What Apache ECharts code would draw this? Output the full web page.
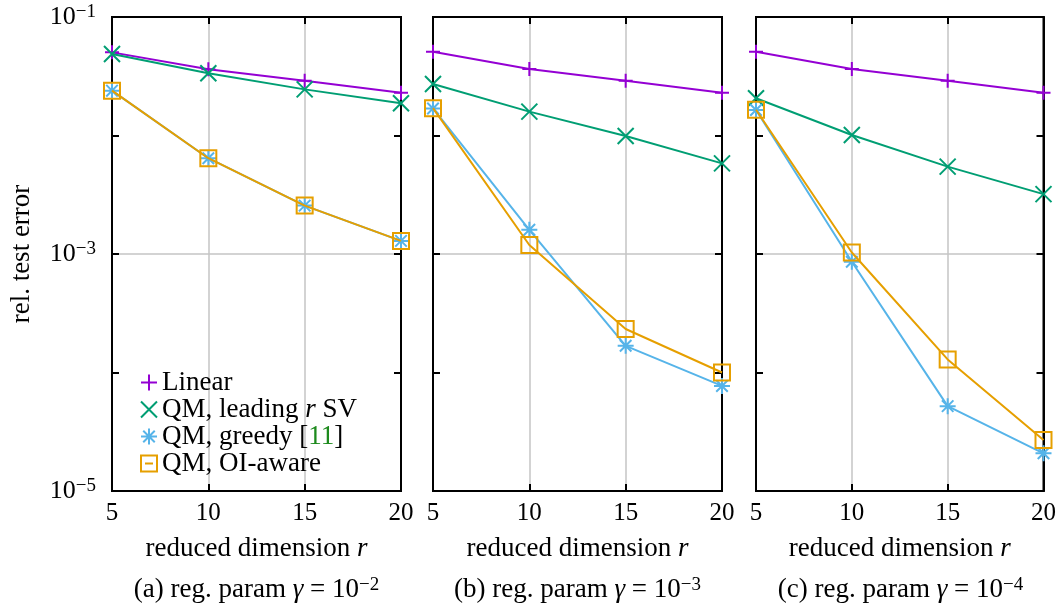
<!DOCTYPE html>
<html>
<head>
<meta charset="utf-8">
<title>rel. test error</title>
<script src="https://cdn.jsdelivr.net/npm/echarts@6/dist/echarts.min.js"></script>
<style>
  html, body { margin: 0; padding: 0; background: #fff; }
  #main { width: 1059px; height: 606px; }
</style>
</head>
<body>
<div id="main"></div>
<script>
// reduced dimension r
var rValues = [5, 10, 15, 20];

// (a) gamma = 1e-2
var linearA  = [0.0503, 0.0362, 0.0290, 0.0230];
var leadingA = [0.0488, 0.0335, 0.0245, 0.0187];
var greedyA  = [0.0239, 0.00643, 0.00256, 0.00129];
var oiA      = [0.0239, 0.00643, 0.00256, 0.00129];

// (b) gamma = 1e-3
var linearB  = [0.0509, 0.0364, 0.0290, 0.0230];
var leadingB = [0.0272, 0.0159, 0.0099, 0.00582];
var greedyB  = [0.0169, 0.0016, 0.000168, 0.000077];
var oiB      = [0.0170, 0.00119, 0.000233, 0.000100];

// (c) gamma = 1e-4
var linearC  = [0.0509, 0.0364, 0.0290, 0.0230];
var leadingC = [0.0206, 0.0101, 0.00546, 0.0032];
var greedyC  = [0.0164, 0.00086, 0.000052, 0.0000208];
var oiC      = [0.0165, 0.00103, 0.000129, 0.0000269];

var captions = [
  '(a) reg. param {i|γ} = 10{s|−2}',
  '(b) reg. param {i|γ} = 10{s|−3}',
  '(c) reg. param {i|γ} = 10{s|−4}'
];
var seriesNames = ['Linear', 'QM, leading r SV', 'QM, greedy [11]', 'QM, OI-aware'];

var FONT = 'Liberation Serif';
var colors = ['#9400d3', '#009e73', '#56b4e9', '#e69f00'];
var plusPath = 'path://M0,-1L0,1M-1,0L1,0';
var crossPath = 'path://M-1,-1L1,1M-1,1L1,-1';
var starPath = 'path://M0,-1L0,1M-1,0L1,0M-0.72,-0.72L0.72,0.72M-0.72,0.72L0.72,-0.72';
var boxPath = 'path://M-1,-1L1,-1L1,1L-1,1Z';
var boxLegendPath = 'path://M-1,-1L1,-1L1,1L-1,1ZM-0.5,0L0.5,0';
var symbols = [plusPath, crossPath, starPath, boxPath];
var symbolSizes = [14, 16, 16, 16];

var panels = [
  [linearA, leadingA, greedyA, oiA],
  [linearB, leadingB, greedyB, oiB],
  [linearC, leadingC, greedyC, oiC]
];
var gridLefts = [112, 433, 756];
var gridWidth = 289;
var gridTop = 17;
var gridHeight = 474;

var textRich = {
  b: { fontFamily: FONT, fontSize: 26, color: '#000', lineHeight: 28 },
  s: { fontFamily: FONT, fontSize: 19, color: '#000', verticalAlign: 'top', lineHeight: 13 },
  i: { fontFamily: FONT, fontSize: 27, fontStyle: 'italic', color: '#000', lineHeight: 28 }
};

var myChart = echarts.init(document.getElementById('main'), null, { renderer: 'canvas' });

var grids = [], xAxes = [], yAxes = [], series = [], graphics = [];

panels.forEach(function (panel, p) {
  grids.push({ left: gridLefts[p], top: gridTop, width: gridWidth, height: gridHeight,
    show: true, borderColor: '#000', borderWidth: 2, backgroundColor: 'transparent' });

  var xBase = {
    gridIndex: p, type: 'value', min: 5, max: 20, interval: 5,
    axisLine: { show: true, onZero: false, lineStyle: { color: '#000', width: 2 } },
    axisTick: { show: true, inside: true, length: 7, lineStyle: { color: '#000', width: 2 } }
  };
  // bottom x axis
  xAxes.push(Object.assign({}, xBase, {
    position: 'bottom',
    name: 'reduced dimension {i|r}',
    nameLocation: 'middle',
    nameGap: 58,
    nameTextStyle: { fontFamily: FONT, fontSize: 27, color: '#000', verticalAlign: 'middle', rich: textRich },
    axisLabel: { show: true, margin: 10, fontFamily: FONT, fontSize: 25, color: '#000' },
    splitLine: { show: true, lineStyle: { color: ['transparent', '#c4c4c4', '#c4c4c4', 'transparent'], width: 1.5 } }
  }));
  // top x axis (frame ticks only)
  xAxes.push(Object.assign({}, xBase, {
    position: 'top',
    axisLabel: { show: false },
    splitLine: { show: false }
  }));

  var yBase = {
    gridIndex: p, type: 'log', logBase: 10, min: 1e-5, max: 1e-1, interval: 1,
    axisLine: { show: true, onZero: false, lineStyle: { color: '#000', width: 2 } },
    axisTick: { show: true, inside: true, length: 7, lineStyle: { color: '#000', width: 2 } },
    minorTick: { show: false }
  };
  yAxes.push(Object.assign({}, yBase, {
    position: 'left',
    name: p === 0 ? 'rel. test error' : '',
    nameLocation: 'middle',
    nameGap: 90,
    nameRotate: 90,
    nameTextStyle: { fontFamily: FONT, fontSize: 27, color: '#000', verticalAlign: 'middle' },
    axisLabel: {
      show: p === 0, margin: 16, fontFamily: FONT, fontSize: 26, color: '#000', rich: textRich,
      formatter: function (v) {
        var e = Math.round(Math.log10(v));
        if (e % 2 === 0) return '';
        return '{b|10}{s|−' + (-e) + '}';
      }
    },
    splitLine: { show: true, lineStyle: { color: ['transparent', 'transparent', '#c4c4c4', 'transparent', 'transparent'], width: 1.5 } }
  }));
  yAxes.push(Object.assign({}, yBase, {
    position: 'right',
    axisLabel: { show: false },
    splitLine: { show: false }
  }));

  panel.forEach(function (vals, k) {
    series.push({
      name: seriesNames[k],
      type: 'line',
      xAxisIndex: p * 2,
      yAxisIndex: p * 2,
      data: rValues.map(function (r, j) { return [r, vals[j]]; }),
      symbol: symbols[k],
      symbolSize: symbolSizes[k],
      showAllSymbol: true,
      clip: false,
      z: 3 + k,
      lineStyle: { color: colors[k], width: 2 },
      itemStyle: { color: 'transparent', borderColor: colors[k], borderWidth: 2 },
      emphasis: { disabled: true },
      animation: false
    });
  });

  graphics.push({
    type: 'text',
    x: gridLefts[p] + gridWidth / 2,
    y: 590,
    style: {
      text: captions[p],
      align: 'center',
      verticalAlign: 'middle',
      fontFamily: FONT,
      fontSize: 27,
      fill: '#000',
      rich: {
        i: { fontFamily: FONT, fontSize: 27, fontStyle: 'italic', fill: '#000', lineHeight: 28 },
        s: { fontFamily: FONT, fontSize: 19, fill: '#000', verticalAlign: 'top', lineHeight: 12 }
      }
    }
  });
});

var legendIcons = [plusPath, crossPath, starPath, boxLegendPath];

option = {
  animation: false,
  backgroundColor: '#fff',
  grid: grids,
  xAxis: xAxes,
  yAxis: yAxes,
  series: series,
  graphic: graphics,
  legend: {
    orient: 'vertical',
    left: 135,
    top: 364,
    itemWidth: 16,
    itemHeight: 16,
    itemGap: 0,
    selectedMode: false,
    data: seriesNames.map(function (n, k) {
      return {
        name: n,
        icon: legendIcons[k],
        itemStyle: { color: 'transparent', borderColor: colors[k], borderWidth: 2 }
      };
    }),
    formatter: function (name) {
      if (name === 'QM, leading r SV') return 'QM, leading {i|r} SV';
      if (name === 'QM, greedy [11]') return 'QM, greedy [{g|11}]';
      return name;
    },
    textStyle: {
      fontFamily: FONT, fontSize: 27, color: '#000', lineHeight: 27,
      rich: {
        i: { fontFamily: FONT, fontSize: 27, fontStyle: 'italic', color: '#000', lineHeight: 27 },
        g: { fontFamily: FONT, fontSize: 27, color: '#1d8a1d', lineHeight: 27 }
      }
    }
  }
};

myChart.setOption(option);
window.onresize = myChart.resize;
</script>
</body>
</html>
